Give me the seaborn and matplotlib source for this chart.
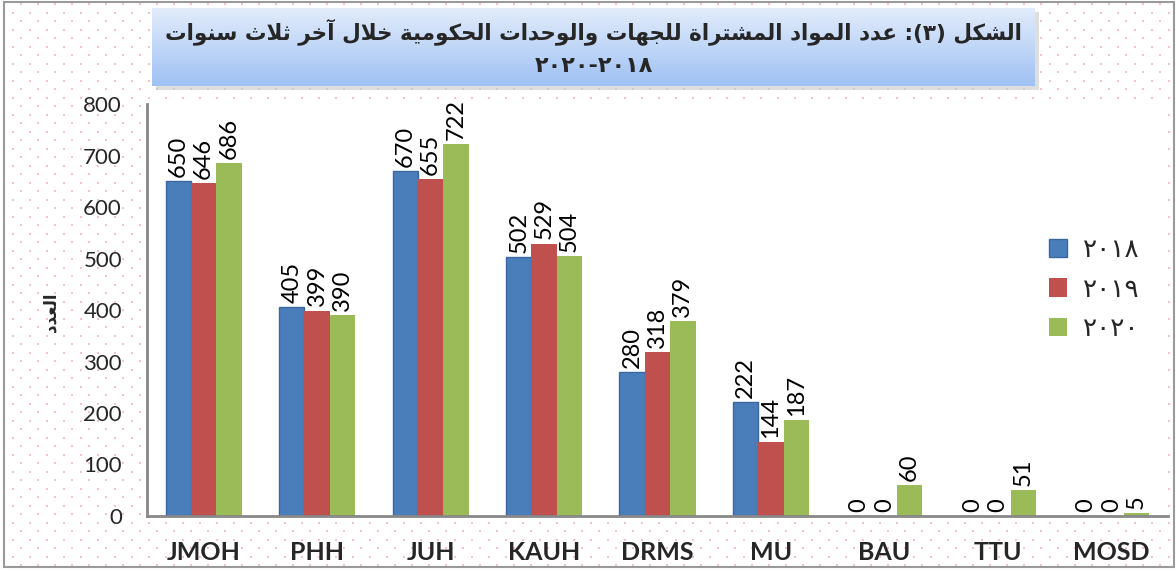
import re
import numpy as np
import pandas as pd
import matplotlib
matplotlib.use("Agg")
import matplotlib.pyplot as plt
import seaborn as sns
from matplotlib.patches import Rectangle

# data
entities = ["JMOH", "PHH", "JUH", "KAUH", "DRMS", "MU", "BAU", "TTU", "MOSD"]
years = ["٢٠١٨", "٢٠١٩", "٢٠٢٠"]
v2018 = [650, 405, 670, 502, 280, 222, 0, 0, 0]
v2019 = [646, 399, 655, 529, 318, 144, 0, 0, 0]
v2020 = [686, 390, 722, 504, 379, 187, 60, 51, 5]
yticks = [0, 100, 200, 300, 400, 500, 600, 700, 800]

title_line1 = "الشكل (٣): عدد المواد المشتراة للجهات والوحدات الحكومية خلال آخر ثلاث سنوات"
title_line2 = "٢٠١٨-٢٠٢٠"
ylabel = "العدد"

colors = ["#4a7ebb", "#c0504d", "#9bbb59"]

# --- tiny arabic shaper (no arabic_reshaper/bidi available offline) ---
# forms: (isolated, final, initial, medial); 2-tuples are right-joining only
FORMS = {
    "ا": (0xFE8D, 0xFE8E), "آ": (0xFE81, 0xFE82), "ب": (0xFE8F, 0xFE90, 0xFE91, 0xFE92),
    "ة": (0xFE93, 0xFE94), "ت": (0xFE95, 0xFE96, 0xFE97, 0xFE98),
    "ث": (0xFE99, 0xFE9A, 0xFE9B, 0xFE9C), "ج": (0xFE9D, 0xFE9E, 0xFE9F, 0xFEA0),
    "ح": (0xFEA1, 0xFEA2, 0xFEA3, 0xFEA4), "خ": (0xFEA5, 0xFEA6, 0xFEA7, 0xFEA8),
    "د": (0xFEA9, 0xFEAA), "ذ": (0xFEAB, 0xFEAC), "ر": (0xFEAD, 0xFEAE), "ز": (0xFEAF, 0xFEB0),
    "س": (0xFEB1, 0xFEB2, 0xFEB3, 0xFEB4), "ش": (0xFEB5, 0xFEB6, 0xFEB7, 0xFEB8),
    "ع": (0xFEC9, 0xFECA, 0xFECB, 0xFECC), "ك": (0xFED9, 0xFEDA, 0xFEDB, 0xFEDC),
    "ل": (0xFEDD, 0xFEDE, 0xFEDF, 0xFEE0), "م": (0xFEE1, 0xFEE2, 0xFEE3, 0xFEE4),
    "ن": (0xFEE5, 0xFEE6, 0xFEE7, 0xFEE8), "ه": (0xFEE9, 0xFEEA, 0xFEEB, 0xFEEC),
    "و": (0xFEED, 0xFEEE), "ي": (0xFEF1, 0xFEF2, 0xFEF3, 0xFEF4),
}
LAMALEF = {"ا": (0xFEFB, 0xFEFC), "آ": (0xFEF5, 0xFEF6)}
MIRROR = {"(": ")", ")": "("}


def dual(c):
    return c in FORMS and len(FORMS[c]) == 4


def shape(text):
    res = []
    i, n = 0, len(text)
    while i < n:
        c = text[i]
        prev = text[i - 1] if i > 0 else ""
        if c == "ل" and i + 1 < n and text[i + 1] in LAMALEF:
            iso, fin = LAMALEF[text[i + 1]]
            res.append(chr(fin if dual(prev) else iso))
            i += 2
            continue
        if c in FORMS:
            f = FORMS[c]
            nxt = text[i + 1] if i + 1 < n else ""
            p = dual(prev)
            q = len(f) == 4 and nxt in FORMS
            if p and q:
                res.append(chr(f[3]))
            elif p:
                res.append(chr(f[1]))
            elif q:
                res.append(chr(f[2]))
            else:
                res.append(chr(f[0]))
        else:
            res.append(c)
        i += 1
    s = "".join(res)
    # right-to-left: reverse, keep digit runs in order
    tokens = re.findall(r"[0-9٠-٩]+|[^0-9٠-٩]+", s)
    out = []
    for t in reversed(tokens):
        if re.match(r"[0-9٠-٩]", t):
            out.append(t)
        else:
            out.append("".join(MIRROR.get(ch, ch) for ch in reversed(t)))
    return "".join(out)


df = pd.DataFrame({
    "entity": entities * 3,
    "year": [years[0]] * 9 + [years[1]] * 9 + [years[2]] * 9,
    "count": v2018 + v2019 + v2020,
})

sns.set_theme(style="white")
plt.rcParams["font.family"] = ["Lato", "DejaVu Sans"]

W, H = 1176, 571
fig = plt.figure(figsize=(W / 100, H / 100), dpi=100)

# dotted page background
bg = fig.add_axes([0, 0, 1, 1], zorder=-10)
bg.set_xlim(0, W)
bg.set_ylim(H, 0)
bg.axis("off")
gx, gy = [], []
for r, yy in enumerate(np.arange(4, H, 8.5)):
    off = 0 if r % 2 == 0 else 8.5
    xs = np.arange(4 + off, W, 17)
    gx.extend(xs)
    gy.extend([yy] * len(xs))
bg.scatter(gx, gy, s=1.3, marker="s", color="#f2c4c4", linewidths=0)
bg.add_patch(Rectangle((4, 2), W - 6, H - 6, fill=False, edgecolor="#9a9a9a", lw=1.5))

# plot area
ax = fig.add_axes([147 / W, (H - 516) / H, 1021 / W, 412 / H])
ax.set_facecolor("white")

sns.barplot(data=df, x="entity", y="count", hue="year", hue_order=years,
            palette=colors, saturation=1, width=0.67, ax=ax)

for patch in ax.patches:
    if patch.get_facecolor()[:3] == matplotlib.colors.to_rgb(colors[0]):
        patch.set_edgecolor("#3a66a0")
        patch.set_linewidth(1)
    else:
        patch.set_linewidth(0)

for cont in ax.containers:
    ax.bar_label(cont, fmt="%d", rotation=90, padding=3, fontsize=17, color="black")

ax.set_xlim(-0.5, len(entities) - 0.5)
ax.set_ylim(0, 800)
ax.set_yticks(yticks)
ax.set_yticklabels([str(t) for t in yticks], fontsize=16)
ax.set_xticks(np.arange(len(entities)))
ax.set_xticklabels(entities, fontsize=18, fontweight="bold")
ax.tick_params(axis="x", length=0, pad=18)
ax.set_xticks(np.arange(len(entities) + 1) - 0.5, minor=True)
ax.tick_params(axis="x", which="minor", length=8, width=1.5, color="#888888", direction="out")
ax.tick_params(axis="y", length=8, width=1.5, color="#888888", direction="out", pad=10)
ax.set_xlabel("")
ax.set_ylabel("")
for side in ["top", "right"]:
    ax.spines[side].set_visible(False)
for side in ["left", "bottom"]:
    ax.spines[side].set_color("#888888")
    ax.spines[side].set_linewidth(2)

leg = ax.legend(loc="center left", bbox_to_anchor=(0.86, 0.55), frameon=False,
                fontsize=19, handlelength=0.7, handleheight=0.7, labelspacing=0.55,
                handletextpad=0.6)

fig.text(50 / W, 1 - 312 / H, shape(ylabel), rotation=90, fontsize=12, fontweight="bold",
         family="DejaVu Sans", ha="center", va="center")

# title box with gradient and shadow
tx0, ty0, tw, th = 152, 8, 883, 78
fig.patches.append(Rectangle(((tx0 + 4) / W, 1 - (ty0 + th + 4) / H), tw / W, th / H,
                             transform=fig.transFigure, facecolor="#c8c8c8", edgecolor="none",
                             alpha=0.6, zorder=5))
tax = fig.add_axes([tx0 / W, 1 - (ty0 + th) / H, tw / W, th / H], zorder=6)
grad = np.linspace(0, 1, 100).reshape(-1, 1)
top = np.array(matplotlib.colors.to_rgb("#e2ecfb"))
bot = np.array(matplotlib.colors.to_rgb("#9fc1f4"))
img = top[None, None, :] * (1 - grad[:, :, None]) + bot[None, None, :] * grad[:, :, None]
tax.imshow(img, aspect="auto", extent=[0, 1, 0, 1])
tax.set_xlim(0, 1)
tax.set_ylim(0, 1)
tax.axis("off")
tax.text(0.5, 0.7, shape(title_line1), ha="center", va="center", fontsize=15.5,
         fontweight="bold", family="DejaVu Sans")
tax.text(0.5, 0.25, shape(title_line2), ha="center", va="center", fontsize=16,
         fontweight="bold", family="DejaVu Sans")

fig.savefig("out.png", dpi=100)
